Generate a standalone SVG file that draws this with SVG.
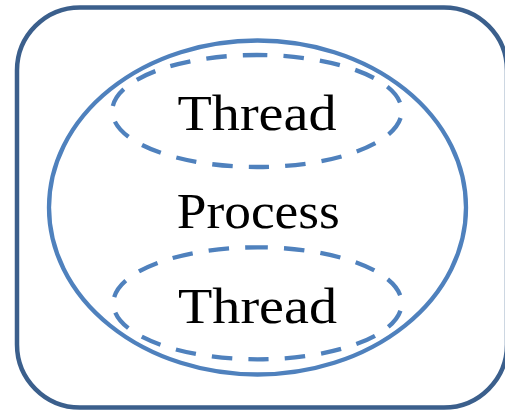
<svg xmlns="http://www.w3.org/2000/svg" width="505" height="410" viewBox="0 0 505 410">
  <style>
    .frame { fill: #FFFFFF; stroke: #3B5F8C; stroke-width: 4.5; }
    .proc { fill: none; stroke: #4F81BD; stroke-width: 4.3; }
    .thread { fill: none; stroke: #4F81BD; stroke-width: 4.3; stroke-dasharray: 20.5 16; stroke-dashoffset: 10; }
    .lbl { font-family: "Liberation Serif", "Times New Roman", serif; font-size: 50px; fill: #000000; text-anchor: middle; }
  </style>
  <rect width="505" height="410" fill="#FFFFFF"/>
  <g id="container">
    <rect class="frame" x="17" y="7.5" width="490" height="400" rx="63" ry="63"/>
  </g>
  <g id="process">
    <ellipse class="proc" cx="257.5" cy="207.5" rx="208.5" ry="167"/>
    <text class="lbl" x="258.3" y="227.7" textLength="163" lengthAdjust="spacingAndGlyphs">Process</text>
  </g>
  <g id="thread-top">
    <path class="thread" d="M257,55 A144.7,56 0 0 1 401.7,111 A144.7,56 0 0 1 257,167 A144.7,56 0 0 1 112.3,111 A144.7,56 0 0 1 257,55 Z"/>
    <text class="lbl" x="257" y="130" textLength="159" lengthAdjust="spacingAndGlyphs">Thread</text>
  </g>
  <g id="thread-bottom">
    <path class="thread" d="M257.5,247.3 A144.2,56 0 0 1 401.7,303.3 A144.2,56 0 0 1 257.5,359.3 A144.2,56 0 0 1 113.3,303.3 A144.2,56 0 0 1 257.5,247.3 Z"/>
    <text class="lbl" x="257.5" y="323.3" textLength="159" lengthAdjust="spacingAndGlyphs">Thread</text>
  </g>
  <g id="connectors"/>
</svg>
